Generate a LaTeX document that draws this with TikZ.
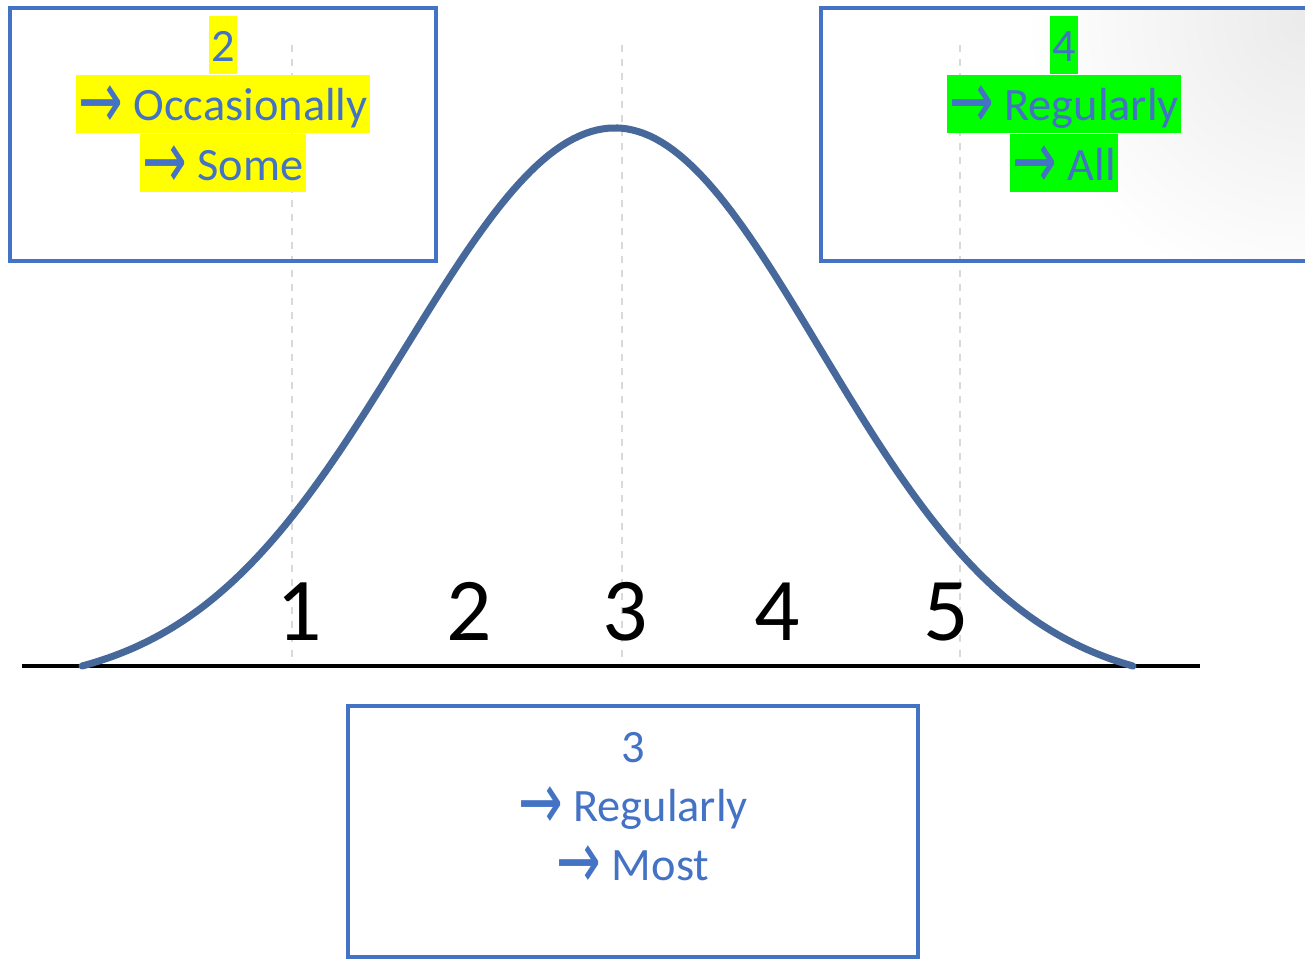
\documentclass[tikz,border=0pt]{standalone}
\usepackage{fontspec}
\setmainfont{Carlito}
\newfontfamily\arrowfont{DejaVu Sans}
\usetikzlibrary{positioning}
\definecolor{cBox}{HTML}{4472C4}
\definecolor{cCurve}{HTML}{46689A}
\definecolor{cHiYel}{HTML}{FFFF00}
\definecolor{cHiGrn}{HTML}{00FF00}
\definecolor{cGuide}{HTML}{D9D9D9}
\newcommand{\lvlarrow}{\raisebox{-0.35ex}{\scalebox{1.15}[1.75]{\arrowfont →}}}

\begin{document}
\begin{tikzpicture}[
    x=0.1mm, y=-0.1mm,
    every node/.style={font=\fontsize{13.2}{16}\selectfont},
    levelbox/.style={
        rectangle, draw=cBox, line width=1.2pt, inner sep=0pt
    },
    textline/.style={
        text=cBox, inner xsep=0.2mm, inner ysep=0pt,
        text height=4.6mm, text depth=1.2mm
    },
    hlyellow/.style={textline, fill=cHiYel},
    hlgreen/.style={textline, fill=cHiGrn},
    scalelbl/.style={font=\fontsize{25.5}{30}\selectfont, text=black, anchor=base, inner sep=0pt},
    bell/.style={draw=cCurve, line width=2pt, line cap=round},
    axisline/.style={draw=black, line width=1.4pt},
    guide/.style={draw=cGuide, line width=0.6pt, dash pattern=on 2pt off 2pt},
]

\useasboundingbox[fill=white] (0,0) rectangle (1305,960);

% faint corner shading
\begin{scope}
    \clip (830,10) rectangle (1305,260);
    \shade[inner color=black!8, outer color=white] (1305,20) circle (2.8cm);
\end{scope}

% =====================================================
% Guides, axis and bell curve
% =====================================================

\coordinate (gOneT) at (292,45);   \coordinate (gOneB) at (292,660);
\coordinate (gThrT) at (622,45);   \coordinate (gThrB) at (622,660);
\coordinate (gFivT) at (960,45);   \coordinate (gFivB) at (960,660);
\draw[guide] (gOneT) -- (gOneB);
\draw[guide] (gThrT) -- (gThrB);
\draw[guide] (gFivT) -- (gFivB);

\coordinate (axL) at (22,666);
\coordinate (axR) at (1200,666);
\draw[axisline] (axL) -- (axR);

\draw[bell]
    plot[domain=82:615, samples=90]
        (\x, {666 - 538*(exp(-0.5*((\x-615)/210)^2) - 0.0399)/0.9601})
    -- plot[domain=615:1133, samples=90]
        (\x, {666 - 538*(exp(-0.5*((\x-615)/205)^2) - 0.0411)/0.9589});

% scale numbers
\node[scalelbl] (sOne) at (299,640) {1};
\node[scalelbl] (sTwo) at (469,640) {2};
\node[scalelbl] (sThr) at (625,640) {3};
\node[scalelbl] (sFou) at (777,640) {4};
\node[scalelbl] (sFiv) at (946,640) {5};

% =====================================================
% Level boxes
% =====================================================

\node[levelbox, minimum width=42.6mm, minimum height=25.3mm] (boxL) at (223,134.5) {};
\node[levelbox, minimum width=49mm,   minimum height=25.3mm] (boxR) at (1066,134.5) {};
\node[levelbox, minimum width=57mm,   minimum height=25.1mm] (boxB) at (633,831.5) {};

% level 2 (left)
\node[hlyellow] (lTwo) at (223,44.5) {2};
\node[hlyellow, below=0pt of lTwo] (lTwoA) {\lvlarrow\ Occasionally};
\node[hlyellow, below=0pt of lTwoA] (lTwoB) {\lvlarrow\ Some};

% level 4 (right)
\node[hlgreen] (lFou) at (1064,44.5) {4};
\node[hlgreen, below=0pt of lFou] (lFouA) {\lvlarrow\ Regularly};
\node[hlgreen, below=0pt of lFouA] (lFouB) {\lvlarrow\ All};

% level 3 (bottom)
\node[textline] (lThr) at (633,745) {3};
\node[textline, below=0pt of lThr] (lThrA) {\lvlarrow\ Regularly};
\node[textline, below=0pt of lThrA] (lThrB) {\lvlarrow\ Most};

\end{tikzpicture}
\end{document}
